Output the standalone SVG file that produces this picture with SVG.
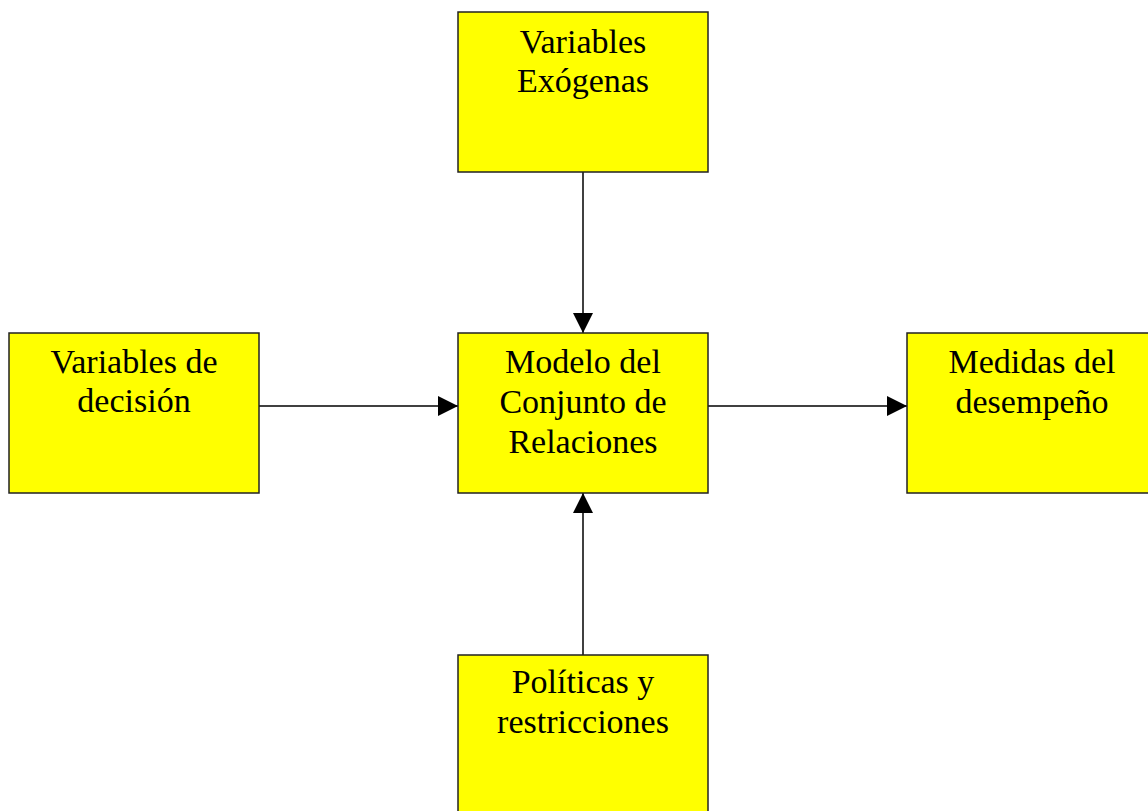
<svg xmlns="http://www.w3.org/2000/svg" width="1148" height="811" viewBox="0 0 1148 811">
<style>
.box{fill:#ffff00;stroke:#222;stroke-width:1.5}
.t{font-family:"Liberation Serif","Times New Roman",serif;font-size:34px;fill:#000;text-anchor:middle}
.c{stroke:#000;stroke-width:1.5;fill:none;marker-end:url(#ah)}
</style>
<defs>
<marker id="ah" markerUnits="userSpaceOnUse" markerWidth="20" markerHeight="20" viewBox="0 0 18 18" refX="18" refY="9" orient="auto">
<path d="M0,0 L18,9 L0,18 Z" fill="#000"/>
</marker>
</defs>
<rect width="1148" height="811" fill="#fff"/>
<g id="connectors">
<line class="c" x1="583" y1="172" x2="583" y2="333"/>
<line class="c" x1="259" y1="406" x2="458" y2="406"/>
<line class="c" x1="708" y1="406" x2="907" y2="406"/>
<line class="c" x1="583" y1="655" x2="583" y2="493"/>
</g>
<g id="exogenas">
<rect class="box" x="458" y="12" width="250" height="160"/>
<text class="t" x="583" y="53">Variables</text>
<text class="t" x="583" y="92">Exógenas</text>
</g>
<g id="decision">
<rect class="box" x="9" y="333" width="250" height="160"/>
<text class="t" x="134" y="373">Variables de</text>
<text class="t" x="134" y="412">decisión</text>
</g>
<g id="modelo">
<rect class="box" x="458" y="333" width="250" height="160"/>
<text class="t" x="583" y="373">Modelo del</text>
<text class="t" x="583" y="413">Conjunto de</text>
<text class="t" x="583" y="453">Relaciones</text>
</g>
<g id="medidas">
<rect class="box" x="907" y="333" width="250" height="160"/>
<text class="t" x="1032" y="373">Medidas del</text>
<text class="t" x="1032" y="413">desempeño</text>
</g>
<g id="politicas">
<rect class="box" x="458" y="655" width="250" height="170"/>
<text class="t" x="583" y="693">Políticas y</text>
<text class="t" x="583" y="733">restricciones</text>
</g>
</svg>
